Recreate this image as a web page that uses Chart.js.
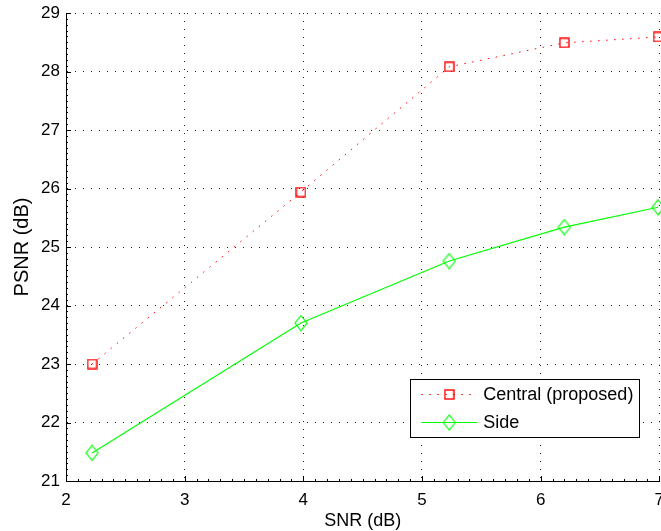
<!DOCTYPE html>
<html><head><meta charset="utf-8">
<script src="https://cdn.jsdelivr.net/npm/chart.js@4/dist/chart.umd.min.js"></script>
<style>html,body{margin:0;padding:0;background:#fff}canvas{display:block}</style>
</head><body>
<canvas id="c" width="661" height="531"></canvas>
<script>
// ---- data ----
const snr = [2.22, 3.98, 5.23, 6.20, 6.99];
const centralPsnr = [23.00, 25.94, 28.08, 28.49, 28.59];
const sidePsnr = [21.48, 23.70, 24.76, 25.34, 25.68];
const seriesLabels = ['Central (proposed)', 'Side'];
const xTickValues = [2, 3, 4, 5, 6, 7];
const yTickValues = [21, 22, 23, 24, 25, 26, 27, 28, 29];
const xTitle = 'SNR (dB)';
const yTitle = 'PSNR (dB)';

const FONT = "'Liberation Sans', Arial, Helvetica, sans-serif";

function squareMarker(color) {
  const c = document.createElement('canvas');
  c.width = 11; c.height = 11;
  const g = c.getContext('2d');
  g.strokeStyle = color; g.lineWidth = 1.4;
  g.strokeRect(1, 1, 9, 9);
  return c;
}
function diamondMarker(color) {
  const c = document.createElement('canvas');
  c.width = 14; c.height = 17;
  const g = c.getContext('2d');
  g.strokeStyle = color; g.lineWidth = 1.2;
  g.beginPath();
  g.moveTo(7, 1); g.lineTo(13, 8.5); g.lineTo(7, 16); g.lineTo(1, 8.5);
  g.closePath(); g.stroke();
  return c;
}

const toXY = (xs, ys) => xs.map((x, i) => ({x, y: ys[i]}));

// let the plot run to the right edge (last tick label is clipped, as in the original figure)
const rightEdge = {
  id: 'rightEdge',
  afterLayout(chart) {
    const x = chart.scales.x;
    const target = chart.width - 1.7;
    chart.chartArea.right = target;
    chart.chartArea.width = target - chart.chartArea.left;
    x.right = target;
    x.width = target - x.left;
    x.configure();
  }
};

const innerTicks = {
  id: 'innerTicks',
  beforeDatasetsDraw(chart) {
    const {ctx, chartArea: a, scales: {x, y}} = chart;
    ctx.save();
    ctx.strokeStyle = '#000';
    ctx.lineWidth = 1;
    ctx.beginPath();
    for (let i = 0; i <= 50; i++) {
      const v = 2 + i / 10;
      const px = Math.round(x.getPixelForValue(v)) + 0.5;
      const len = (i % 10 === 0) ? 5 : 2;
      ctx.moveTo(px, a.bottom); ctx.lineTo(px, a.bottom - len);
    }
    for (let i = 0; i <= 80; i++) {
      const v = 21 + i / 10;
      const py = Math.round(y.getPixelForValue(v)) + 0.5;
      const len = (i % 10 === 0) ? 5 : 2;
      ctx.moveTo(a.left, py); ctx.lineTo(a.left + len, py);
    }
    ctx.stroke();
    ctx.restore();
  }
};

const boxLegend = {
  id: 'boxLegend',
  afterDraw(chart) {
    const {ctx, chartArea: a} = chart;
    const right = a.right - 20, bottom = a.bottom - 44;
    const w = 229, h = 58;
    const left = right - w, top = bottom - h;
    ctx.save();
    ctx.fillStyle = '#fff';
    ctx.fillRect(left, top, w, h);
    ctx.strokeStyle = '#000'; ctx.lineWidth = 1;
    ctx.strokeRect(Math.round(left) + 0.5, Math.round(top) + 0.5, w, h);
    chart.data.datasets.forEach((ds, i) => {
      const cy = top + 15.5 + i * 28;
      ctx.save();
      ctx.strokeStyle = ds.borderColor; ctx.lineWidth = ds.borderWidth;
      ctx.setLineDash(ds.borderDash || []);
      ctx.beginPath(); ctx.moveTo(left + 11, cy); ctx.lineTo(left + 67, cy); ctx.stroke();
      ctx.restore();
      Chart.helpers.drawPoint(ctx, {pointStyle: ds.pointStyle, radius: 6, rotation: 0, borderWidth: 1}, left + 39, cy);
      ctx.fillStyle = '#000';
      ctx.font = '18px ' + FONT;
      ctx.textBaseline = 'middle'; ctx.textAlign = 'left';
      ctx.fillText(ds.label, left + 73, cy + 1);
    });
    ctx.restore();
  }
};

new Chart(document.getElementById('c'), {
  type: 'line',
  data: {
    datasets: [
      {
        label: seriesLabels[0],
        data: toXY(snr, centralPsnr),
        borderColor: '#ff0000', borderWidth: 1, borderDash: [1.5, 6.5],
        pointStyle: squareMarker('#ff0000'),
        pointRadius: 5, tension: 0, fill: false, clip: false
      },
      {
        label: seriesLabels[1],
        data: toXY(snr, sidePsnr),
        borderColor: '#00ff00', borderWidth: 1.2,
        pointStyle: diamondMarker('#00ff00'),
        pointRadius: 6, tension: 0, fill: false, clip: false
      }
    ]
  },
  options: {
    responsive: false, animation: false, devicePixelRatio: 1,
    layout: {padding: {top: 13, left: 0, right: 1.7, bottom: 0}},
    plugins: {legend: {display: false}, tooltip: {enabled: false}},
    scales: {
      x: {
        type: 'linear', min: 2, max: 7,
        afterBuildTicks: s => { s.ticks = xTickValues.map(v => ({value: v})); },
        afterFit: s => { s.height = 50; s.paddingLeft = 0; s.paddingRight = 0; },
        ticks: {color: '#000', font: {family: FONT, size: 17}, padding: 9, maxRotation: 0, autoSkip: false},
        grid: {color: '#222', lineWidth: 1, drawTicks: false},
        border: {display: true, color: '#000', width: 1, dash: [1, 7]},
        title: {display: true, text: xTitle, color: '#000', font: {family: FONT, size: 18, lineHeight: 1}, padding: {top: 0, bottom: 1}}
      },
      y: {
        type: 'linear', min: 21, max: 29,
        afterBuildTicks: s => { s.ticks = yTickValues.map(v => ({value: v})); },
        afterFit: s => { s.width = 66; s.paddingTop = 0; s.paddingBottom = 0; },
        ticks: {color: '#000', font: {family: FONT, size: 17}, padding: 6},
        grid: {color: '#222', lineWidth: 1, drawTicks: false},
        border: {display: true, color: '#000', width: 1, dash: [1, 7]},
        title: {display: true, text: yTitle, color: '#000', font: {family: FONT, size: 20, lineHeight: 1}, padding: {top: 12, bottom: 0}}
      }
    }
  },
  plugins: [rightEdge, innerTicks, boxLegend]
});
</script>
</body></html>
